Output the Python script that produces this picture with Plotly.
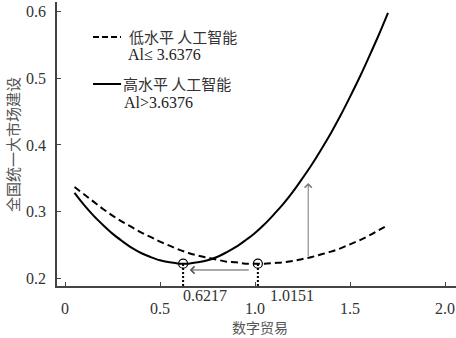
import plotly.graph_objects as go

# ---- data ----
x_vals = [0.05, 0.10, 0.15, 0.20, 0.25, 0.30, 0.35, 0.40, 0.45, 0.50, 0.55, 0.60,
          0.65, 0.70, 0.75, 0.80, 0.85, 0.90, 0.95, 1.00, 1.05, 1.10, 1.15, 1.20,
          1.25, 1.30, 1.35, 1.40, 1.45, 1.50, 1.55, 1.60, 1.65, 1.70]
high_ai = [0.328, 0.310, 0.294, 0.280, 0.267, 0.256, 0.246, 0.238, 0.232, 0.227, 0.224, 0.222,
           0.222, 0.224, 0.227, 0.232, 0.239, 0.247, 0.257, 0.268, 0.281, 0.296, 0.312, 0.330,
           0.350, 0.371, 0.394, 0.418, 0.444, 0.472, 0.501, 0.532, 0.564, 0.598]
low_ai = [0.337, 0.326, 0.315, 0.304, 0.294, 0.285, 0.277, 0.269, 0.262, 0.255, 0.249, 0.243,
          0.238, 0.234, 0.231, 0.228, 0.225, 0.224, 0.222, 0.222, 0.222, 0.223, 0.224, 0.226,
          0.229, 0.232, 0.236, 0.240, 0.245, 0.251, 0.257, 0.264, 0.272, 0.280]
min_x = [0.6217, 1.0151]
min_y = [0.222, 0.222]
min_labels = ["0.6217", "1.0151"]
x_ticks = [0, 0.5, 1.0, 1.5, 2.0]
x_ticktext = ["0", "0.5", "1.0", "1.5", "2.0"]
y_ticks = [0.2, 0.3, 0.4, 0.5, 0.6]
y_ticktext = ["0.2", "0.3", "0.4", "0.5", "0.6"]
arrow_x = 1.28
arrow_y = [0.231, 0.343]

SERIF = "Liberation Serif, Times New Roman, Noto Sans CJK SC, serif"
CJK = "Noto Sans CJK SC, sans-serif"
AX = "#444444"
TXT = "#333333"

fig = go.Figure()

fig.add_trace(go.Scatter(x=x_vals, y=low_ai, mode="lines", line_shape="spline",
                         line=dict(color="black", width=2, dash="7px,4px"),
                         showlegend=False, hoverinfo="skip"))
fig.add_trace(go.Scatter(x=x_vals, y=high_ai, mode="lines", line_shape="spline",
                         line=dict(color="black", width=2),
                         showlegend=False, hoverinfo="skip"))

# dotted drops from minima to axis
for mx, my in zip(min_x, min_y):
    fig.add_trace(go.Scatter(x=[mx, mx], y=[0.1885, my], mode="lines",
                             line=dict(color="black", width=2, dash="2px,2px"),
                             showlegend=False, hoverinfo="skip"))

fig.add_trace(go.Scatter(x=min_x, y=min_y, mode="markers",
                         marker=dict(symbol="circle-open", size=9,
                                     line=dict(color="black", width=1.2), color="black"),
                         showlegend=False, hoverinfo="skip"))

annotations = []
# horizontal arrow (shift of optimum)
annotations.append(dict(x=min_x[0] + 0.035, y=0.2125, ax=min_x[1] - 0.04, ay=0.2125,
                        xref="x", yref="y", axref="x", ayref="y", text="",
                        showarrow=True, arrowhead=4, arrowsize=1.4, arrowwidth=1,
                        arrowcolor="#555555"))
# vertical arrow
annotations.append(dict(x=arrow_x, y=arrow_y[1], ax=arrow_x, ay=arrow_y[0],
                        xref="x", yref="y", axref="x", ayref="y", text="",
                        showarrow=True, arrowhead=4, arrowsize=1.4, arrowwidth=1,
                        arrowcolor="#777777"))
# minimum labels (raised above the tick labels)
min_shift = [-2, 10]
for mx, lab, sh in zip(min_x, min_labels, min_shift):
    annotations.append(dict(x=mx, y=-0.035, xref="x", yref="paper", text=lab,
                            showarrow=False, xanchor="left", yanchor="middle",
                            xshift=sh, font=dict(family=SERIF, size=16, color=TXT)))

def px(p):
    return (p - 57) / 399.0
def py(p):
    return (286 - p) / 284.0

annotations += [
    dict(x=px(127), y=py(37), xref="paper", yref="paper", text="低水平 人工智能",
         showarrow=False, xanchor="left", yanchor="middle",
         font=dict(family=CJK, size=15, color="#333")),
    dict(x=px(126), y=py(55), xref="paper", yref="paper", text="Al≤ 3.6376",
         showarrow=False, xanchor="left", yanchor="middle",
         font=dict(family=SERIF, size=16, color="#222")),
    dict(x=px(121), y=py(84), xref="paper", yref="paper", text="高水平 人工智能",
         showarrow=False, xanchor="left", yanchor="middle",
         font=dict(family=CJK, size=15, color="#333")),
    dict(x=px(122), y=py(103), xref="paper", yref="paper", text="Al>3.6376",
         showarrow=False, xanchor="left", yanchor="middle",
         font=dict(family=SERIF, size=16, color="#222")),
    dict(x=px(12), y=py(145), xref="paper", yref="paper", text="全国统一大市场建设",
         showarrow=False, xanchor="center", yanchor="middle", textangle=-90,
         font=dict(family=CJK, size=15, color="#555")),
    dict(x=px(260), y=py(327), xref="paper", yref="paper", text="数字贸易",
         showarrow=False, xanchor="center", yanchor="middle",
         font=dict(family=CJK, size=14, color="#555")),
]

shapes = [
    dict(type="line", xref="paper", yref="paper", x0=px(93), x1=px(121), y0=py(37), y1=py(37),
         line=dict(color="black", width=2, dash="6px,3px")),
    dict(type="line", xref="paper", yref="paper", x0=px(93), x1=px(121), y0=py(84), y1=py(84),
         line=dict(color="black", width=2)),
]

fig.update_layout(
    width=456, height=338,
    margin=dict(l=57, r=0, t=2, b=52),
    plot_bgcolor="white", paper_bgcolor="white",
    showlegend=False,
    annotations=annotations, shapes=shapes,
    xaxis=dict(range=[-0.0421, 2.0579], tickvals=x_ticks, ticktext=x_ticktext,
               ticks="inside", ticklen=4, tickcolor=AX, tickwidth=1,
               showline=True, linecolor=AX, linewidth=1.5, showgrid=False, zeroline=False,
               tickfont=dict(family=SERIF, size=16, color=TXT), ticklabelstandoff=7),
    yaxis=dict(range=[0.1885, 0.6142], tickvals=y_ticks, ticktext=y_ticktext,
               ticks="inside", ticklen=4, tickcolor=AX, tickwidth=1,
               showline=True, linecolor=AX, linewidth=1.5, showgrid=False, zeroline=False,
               tickfont=dict(family=SERIF, size=16, color=TXT), ticklabelstandoff=6),
)

fig.write_html("out.html")
